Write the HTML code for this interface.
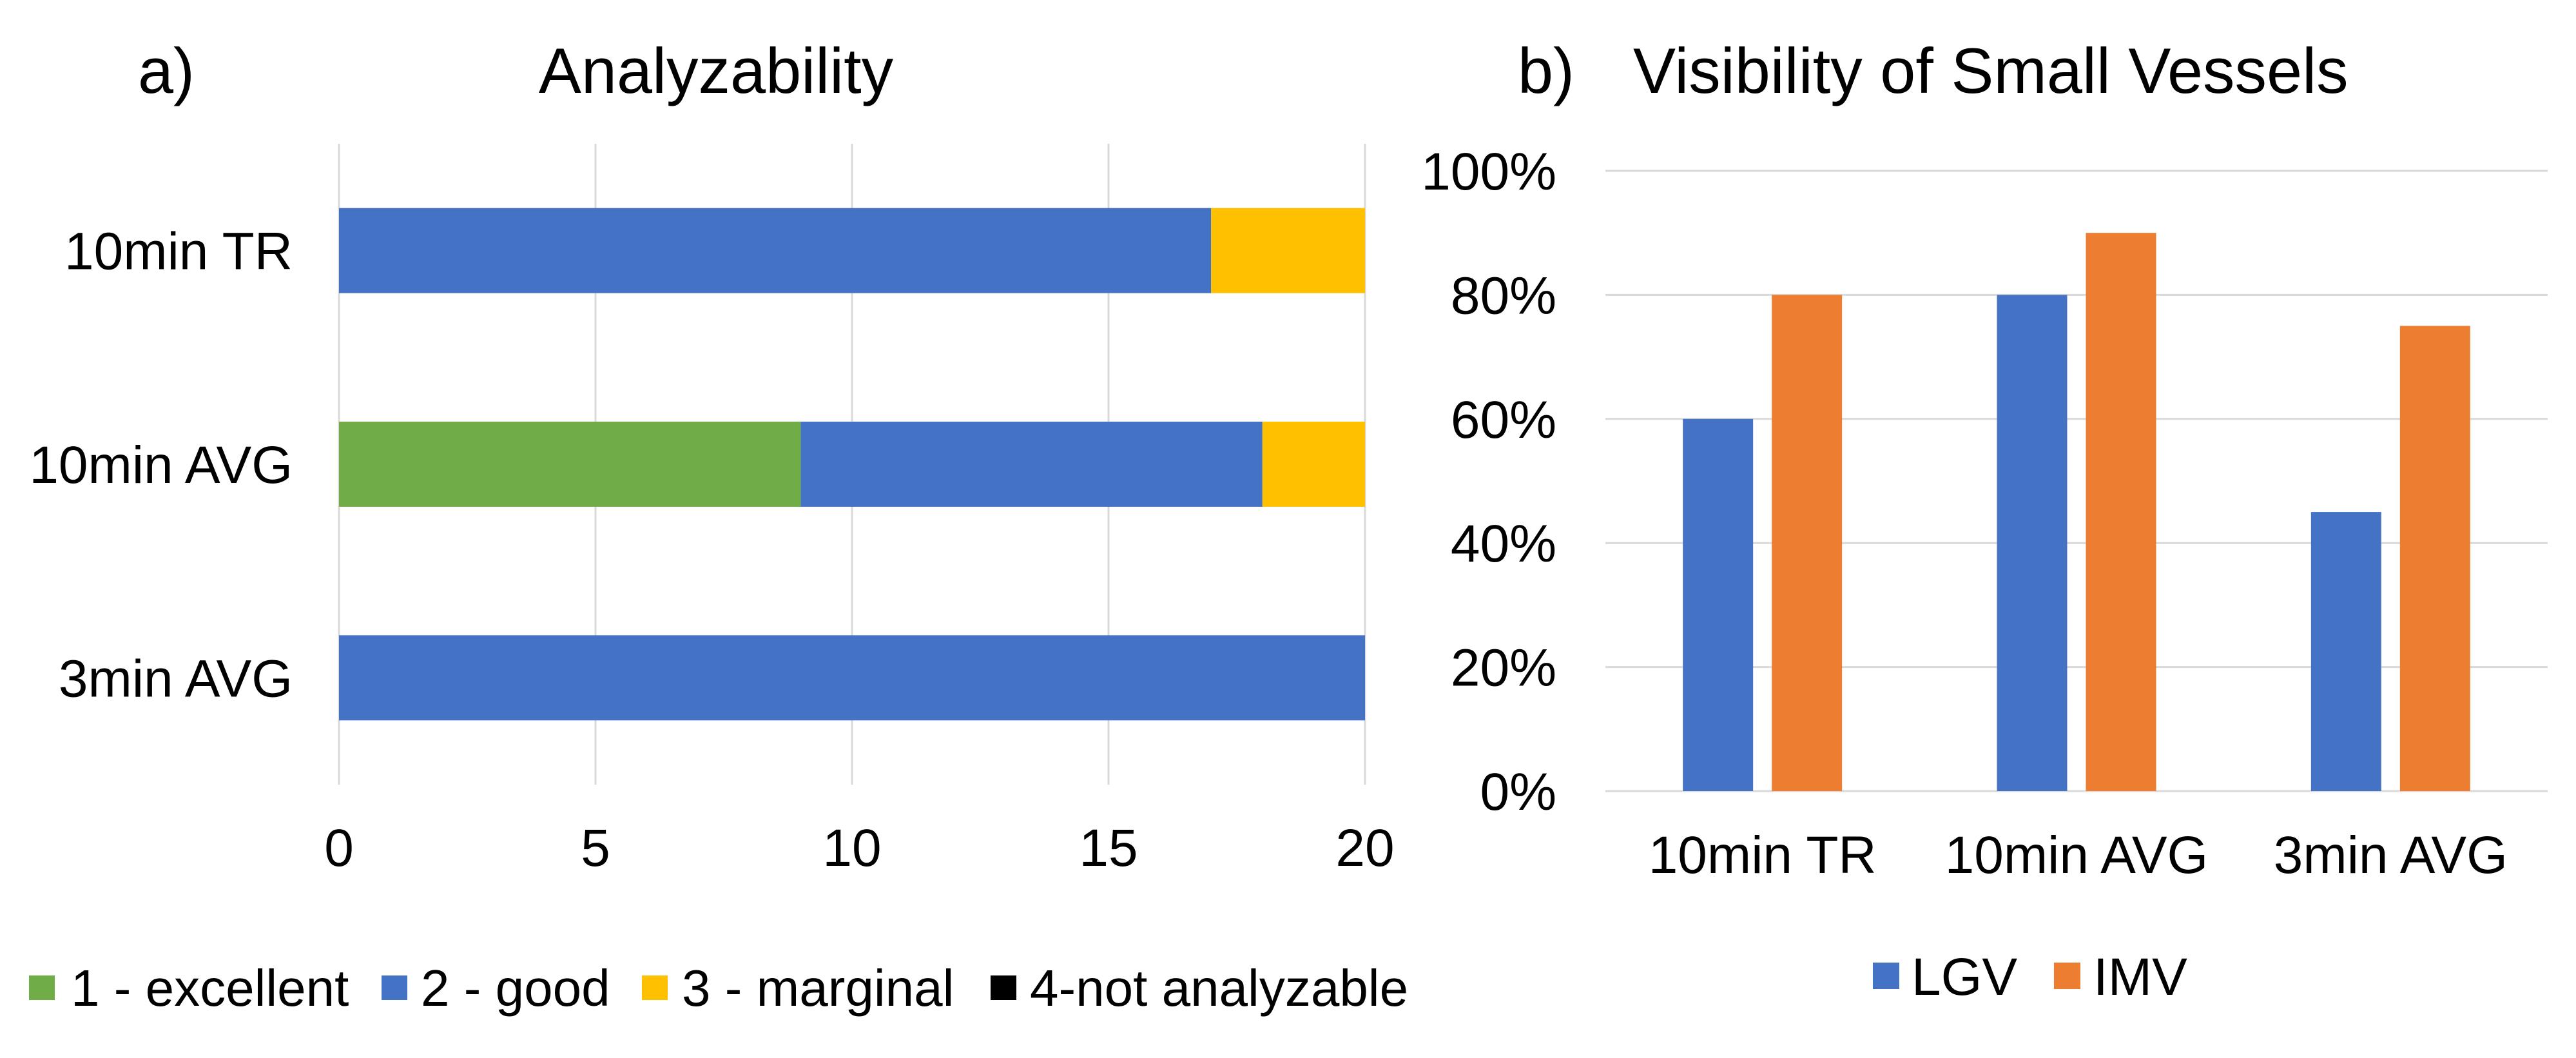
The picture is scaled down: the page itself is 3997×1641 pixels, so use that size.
<!DOCTYPE html>
<html><head><meta charset="utf-8"><style>
html,body{margin:0;padding:0;background:#fff;}
svg{display:block;font-family:"Liberation Sans",Arial,sans-serif;}
</style></head><body>
<svg id="fig" width="3997" height="1641" viewBox="0 0 3997 1641" xmlns="http://www.w3.org/2000/svg">
<g id="chartA"></g>
<g id="chartB"></g>
</svg>
<script>
// ---- Chart A data ----
const aCategories = ["10min TR", "10min AVG", "3min AVG"];
const aExcellent = [0, 9, 0];
const aGood = [17, 9, 20];
const aMarginal = [3, 2, 0];
const aNotAnalyzable = [0, 0, 0];
const aTicks = [0, 5, 10, 15, 20];
// ---- Chart B data ----
const bCategories = ["10min TR", "10min AVG", "3min AVG"];
const bLGV = [0.60, 0.80, 0.45];
const bIMV = [0.80, 0.90, 0.75];
const bTicks = [0, 0.2, 0.4, 0.6, 0.8, 1.0];
const bTickLabels = ["0%", "20%", "40%", "60%", "80%", "100%"];

const NS = "http://www.w3.org/2000/svg";
function mk(parent, tag, attrs, text) {
  const e = document.createElementNS(NS, tag);
  for (const k in attrs) e.setAttribute(k, attrs[k]);
  if (text !== undefined) e.textContent = text;
  parent.appendChild(e);
  return e;
}
const C = {green:"#70AD47", blue:"#4472C4", yellow:"#FFC000", black:"#000000", orange:"#ED7D31", grid:"#D9D9D9"};

// ===== Chart A =====
const A = document.getElementById("chartA");
const ax0 = 526, ax1 = 2118, aTop = 223, aBot = 1217;
const axScale = v => ax0 + (v - aTicks[0]) / (aTicks[aTicks.length-1] - aTicks[0]) * (ax1 - ax0);
const aBand = (aBot - aTop) / aCategories.length;
const aBarH = 132;
let t;
t = mk(A, "text", {x:214, y:144, "font-size":99, fill:"#000"}, "a)");


t = mk(A, "text", {x:1111, y:144, "font-size":99, "text-anchor":"middle", fill:"#000"}, "Analyzability");


aTicks.forEach(v => {
  const x = axScale(v);
  const l = mk(A, "line", {x1:x, x2:x, y1:aTop, y2:aBot, stroke:C.grid, "stroke-width":3});
  
  
  const tl = mk(A, "text", {x:x, y:1343, "font-size":82, "text-anchor":"middle", fill:"#000"}, String(v));
  
  
});
const aSeries = [[aExcellent, C.green, "excellent"], [aGood, C.blue, "good"], [aMarginal, C.yellow, "marginal"], [aNotAnalyzable, C.black, "not-analyzable"]];
aCategories.forEach((cat, i) => {
  const cy = aTop + aBand * (i + 0.5);
  const lab = mk(A, "text", {x:454, y:cy + 29, "font-size":82, "text-anchor":"end", fill:"#000"}, cat);
  
  
  let acc = 0;
  aSeries.forEach(s => {
    const v = s[0][i];
    if (v > 0) {
      const x = axScale(acc), w = axScale(acc + v) - x;
      const r = mk(A, "rect", {x:x, y:cy - aBarH/2, width:w, height:aBarH, fill:s[1]});
      
      
    }
    acc += v;
  });
});
const aLegend = [[45, 110, C.green, "1 - excellent"], [592, 653, C.blue, "2 - good"], [996, 1058, C.yellow, "3 - marginal"], [1537, 1598, C.black, "4-not analyzable"]];
aLegend.forEach(l => {
  const sq = mk(A, "rect", {x:l[0], y:1513, width:40, height:38, fill:l[2]});
  
  
  const tx = mk(A, "text", {x:l[1], y:1560, "font-size":80, fill:"#000"}, l[3]);
  
  
});

// ===== Chart B =====
const B = document.getElementById("chartB");
const bx0 = 2491, bx1 = 3953, bTop = 265, bBot = 1227;
const byScale = v => bBot - (v - bTicks[0]) / (bTicks[bTicks.length-1] - bTicks[0]) * (bBot - bTop);
const bBand = (bx1 - bx0) / bCategories.length;
const bBarW = 109, bGap = 29;
t = mk(B, "text", {x:2355, y:144, "font-size":99, fill:"#000"}, "b)");


t = mk(B, "text", {x:2534, y:144, "font-size":99, fill:"#000"}, "Visibility of Small Vessels");


bTicks.forEach((v, i) => {
  const y = byScale(v);
  const l = mk(B, "line", {x1:bx0, x2:bx1, y1:y, y2:y, stroke:C.grid, "stroke-width":3});
  
  
  const tl = mk(B, "text", {x:2415, y:y + 29, "font-size":82, "text-anchor":"end", fill:"#000"}, bTickLabels[i]);
  
  
});
bCategories.forEach((cat, i) => {
  const cx = bx0 + bBand * (i + 0.5);
  const r1 = mk(B, "rect", {x:cx - bGap/2 - bBarW, y:byScale(bLGV[i]), width:bBarW, height:bBot - byScale(bLGV[i]), fill:C.blue});
  
  
  const r2 = mk(B, "rect", {x:cx + bGap/2, y:byScale(bIMV[i]), width:bBarW, height:bBot - byScale(bIMV[i]), fill:C.orange});
  
  
  const lab = mk(B, "text", {x:cx, y:1354, "font-size":82, "text-anchor":"middle", fill:"#000"}, cat);
  
  
});
[[2906, 2966, C.blue, "LGV"], [3187, 3248, C.orange, "IMV"]].forEach(l => {
  const sq = mk(B, "rect", {x:l[0], y:1493, width:41, height:41, fill:l[2]});
  
  
  const tx = mk(B, "text", {x:l[1], y:1543, "font-size":82, fill:"#000"}, l[3]);
  
  
});
</script>
</body></html>
